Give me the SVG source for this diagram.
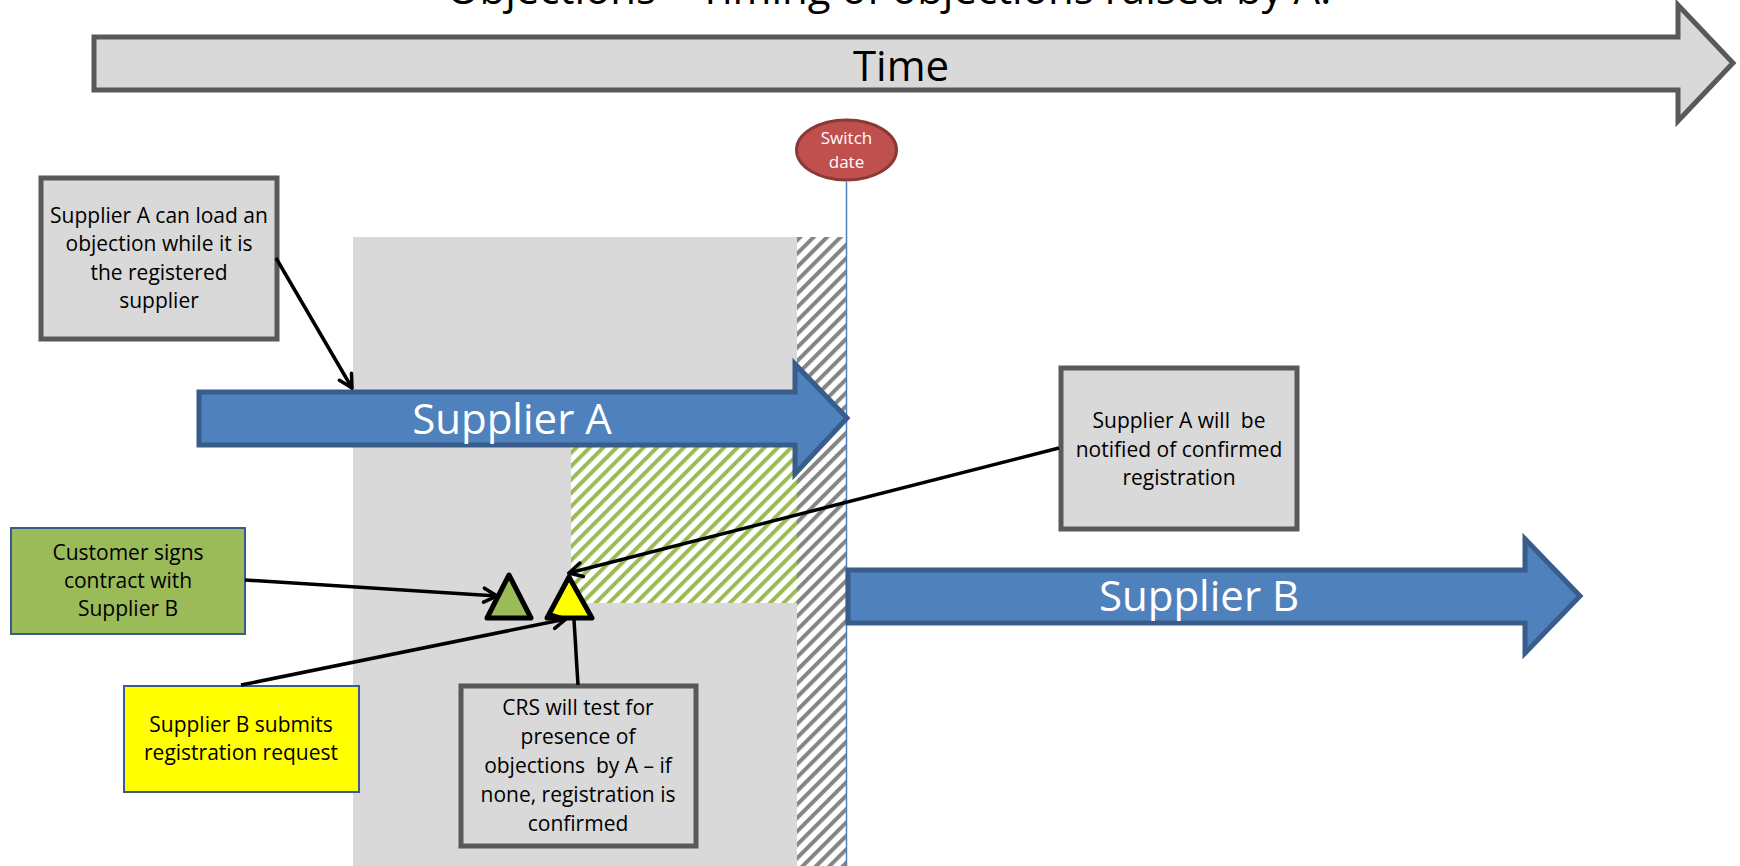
<svg xmlns="http://www.w3.org/2000/svg" width="1740" height="866" viewBox="0 0 1740 866">
  <style>
    .txt { font-family: "Open Sans", "Liberation Sans", sans-serif; fill: #000; }
    .big { font-size: 42px; text-anchor: middle; }
    .white { fill: #ffffff; }
    .box { fill: #d9d9d9; stroke: #595959; stroke-width: 5; }
    .note { font-size: 21px; text-anchor: middle; }
    .blue-arrow { fill: #4f81bd; stroke: #385d8a; stroke-width: 5; stroke-linejoin: miter; }
    .conn { stroke: #000; stroke-width: 3.5; fill: none; }
    .tri { stroke: #000; stroke-width: 5; stroke-linejoin: round; }
  </style>
  <defs>
    <pattern id="hatchGrey" patternUnits="userSpaceOnUse" width="9.5" height="20" patternTransform="rotate(45)">
      <rect width="9.5" height="20" fill="#ffffff"/>
      <rect x="0" width="4" height="20" fill="#858585"/>
    </pattern>
    <pattern id="hatchGreen" patternUnits="userSpaceOnUse" width="9.5" height="20" patternTransform="rotate(45)">
      <rect width="9.5" height="20" fill="#ffffff"/>
      <rect x="0" width="4" height="20" fill="#9bbb59"/>
    </pattern>
    <marker id="open" markerUnits="userSpaceOnUse" markerWidth="18" markerHeight="18" viewBox="0 0 18 18" refX="16" refY="9" orient="auto">
      <path d="M3,2 L16,9 L3,16" fill="none" stroke="#000" stroke-width="3.5" stroke-linecap="round" stroke-linejoin="miter"/>
    </marker>
  </defs>

  <rect width="1740" height="866" fill="#ffffff"/>

  <!-- title, partly above the top edge -->
  <text class="txt big" x="889" y="4">Objections – Timing of objections raised by A.</text>

  <!-- time axis arrow -->
  <g id="time-arrow">
    <path d="M94,37 H1678 V5 L1733,63 L1678,121 V90 H94 Z" fill="#d9d9d9" stroke="#595959" stroke-width="5" stroke-linejoin="miter"/>
    <text class="txt big" x="901" y="81">Time</text>
  </g>

  <!-- objection window and cut-off periods -->
  <g id="windows">
    <rect x="353" y="237" width="444" height="629" fill="#d9d9d9"/>
    <rect x="797" y="237" width="49" height="629" fill="url(#hatchGrey)"/>
    <rect x="571" y="447" width="226" height="156" fill="url(#hatchGreen)"/>
  </g>

  <!-- switch date marker -->
  <g id="switch-date">
    <line x1="846.5" y1="182" x2="846.5" y2="866" stroke="#4f81bd" stroke-width="1.5"/>
    <ellipse cx="846.5" cy="150" rx="50" ry="30" fill="#c0504d" stroke="#8c3836" stroke-width="3"/>
    <text class="txt white" x="846.5" y="144" font-size="17" text-anchor="middle">Switch</text>
    <text class="txt white" x="846.5" y="168" font-size="17" text-anchor="middle">date</text>
  </g>

  <g id="supplier-a">
    <path class="blue-arrow" d="M199,392 H795 V364 L847,418 L795,474 V445 H199 Z"/>
    <text class="txt big white" x="512" y="434">Supplier A</text>
  </g>

  <g id="supplier-b">
    <path class="blue-arrow" d="M848,570 H1525 V539 L1580,596 L1525,653 V623 H848 Z"/>
    <text class="txt big white" x="1199" y="611">Supplier B</text>
  </g>

  <g id="note-load">
    <rect class="box" x="41" y="178" width="236" height="161"/>
    <text class="txt note" x="159" y="223">Supplier A can load an</text>
    <text class="txt note" x="159" y="251">objection while it is</text>
    <text class="txt note" x="159" y="280">the registered</text>
    <text class="txt note" x="159" y="308">supplier</text>
  </g>

  <g id="note-notified">
    <rect class="box" x="1061" y="368" width="236" height="161"/>
    <text class="txt note" x="1179" y="428" xml:space="preserve">Supplier A will  be</text>
    <text class="txt note" x="1179" y="457">notified of confirmed</text>
    <text class="txt note" x="1179" y="485">registration</text>
  </g>

  <g id="note-contract">
    <rect x="11" y="528" width="234" height="106" fill="#9bbb59" stroke="#385d8a" stroke-width="2"/>
    <text class="txt note" x="128" y="560">Customer signs</text>
    <text class="txt note" x="128" y="588">contract with</text>
    <text class="txt note" x="128" y="616">Supplier B</text>
  </g>

  <g id="note-request">
    <rect x="124" y="686" width="235" height="106" fill="#ffff00" stroke="#385d8a" stroke-width="2"/>
    <text class="txt note" x="241" y="732">Supplier B submits</text>
    <text class="txt note" x="241" y="760">registration request</text>
  </g>

  <g id="note-crs">
    <rect class="box" x="461" y="686" width="235" height="160"/>
    <text class="txt note" x="578" y="715">CRS will test for</text>
    <text class="txt note" x="578" y="744">presence of</text>
    <text class="txt note" x="578" y="773" xml:space="preserve">objections  by A – if</text>
    <text class="txt note" x="578" y="802">none, registration is</text>
    <text class="txt note" x="578" y="831">confirmed</text>
  </g>

  <!-- event markers -->
  <g id="event-contract">
    <path class="tri" d="M509,575 L531,618 L487,618 Z" fill="#9bbb59"/>
  </g>
  <g id="event-request">
    <path class="tri" d="M569,577 L592,618 L547,618 Z" fill="#ffff00"/>
  </g>

  <g id="connectors">
    <line class="conn" x1="276" y1="258" x2="352" y2="388" marker-end="url(#open)"/>
    <line class="conn" x1="245" y1="580" x2="497" y2="596" marker-end="url(#open)"/>
    <line class="conn" x1="241" y1="685" x2="566" y2="619" marker-end="url(#open)"/>
    <line class="conn" x1="578" y1="685" x2="574" y2="620"/>
    <line class="conn" x1="1059" y1="448" x2="569" y2="573" marker-end="url(#open)"/>
  </g>
</svg>
